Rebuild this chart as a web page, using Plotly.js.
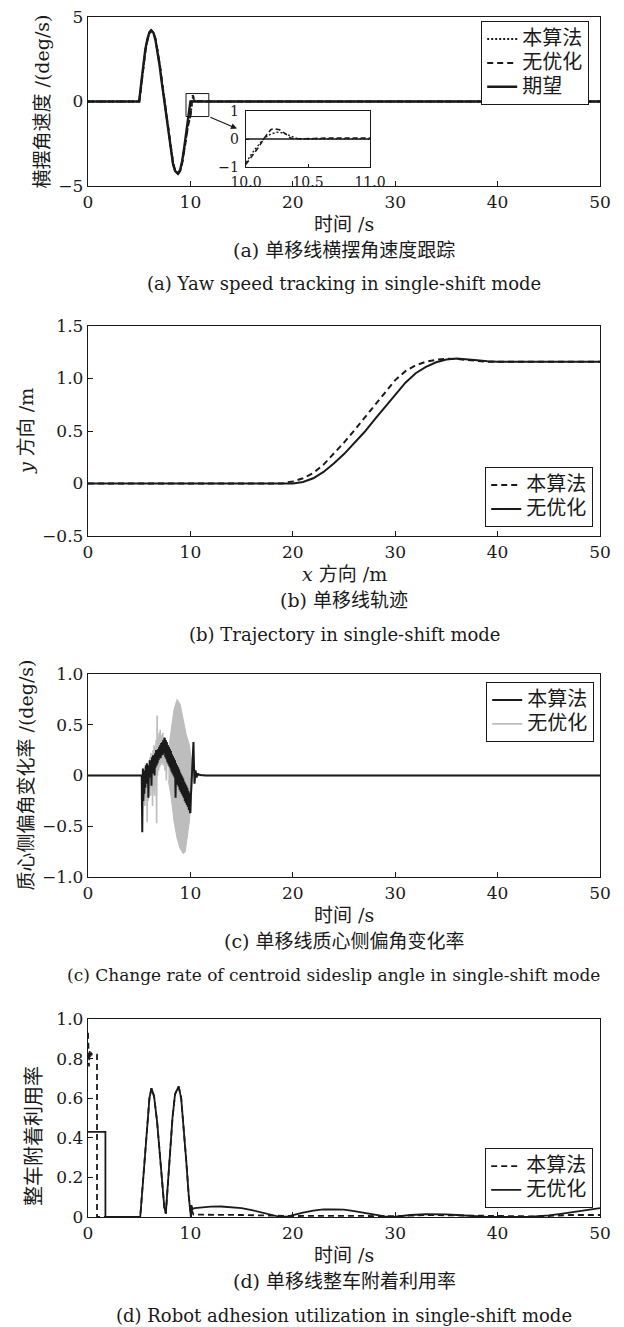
<!DOCTYPE html>
<html><head><meta charset="utf-8">
<script src="https://cdn.plot.ly/plotly-3.0.1.min.js"></script>
<style>body{margin:0;background:#fff}</style>
</head><body><div id="chart" style="width:624px;height:1327px"></div>
<script>
// ---------- (a) yaw rate ----------
const aT_des = [0,5.0,5.2,5.4,5.6,5.8,6.0,6.16,6.4,6.6,6.8,7.0,7.2,7.45,7.7,7.9,8.1,8.3,8.5,8.77,9.0,9.2,9.4,9.6,9.8,10.0,50];
const aY_des = [0,0,1.1,2.2,3.1,3.7,4.1,4.21,4.05,3.6,2.95,2.1,1.15,0,-1.2,-2.2,-3.1,-3.7,-4.1,-4.27,-4.05,-3.5,-2.7,-1.8,-0.85,0,0];
const aT_nop = [0,5.0,5.2,5.4,5.6,5.8,6.0,6.2,6.4,6.6,6.8,7.0,7.2,7.45,7.7,7.9,8.1,8.3,8.5,8.8,9.0,9.2,9.4,9.6,9.8,10.0,10.05,10.1,10.15,10.2,10.22,10.27,10.32,10.36,10.4,10.45,10.55,10.65,10.75,10.85,11.0,11.5,12,50];
const aY_nop = [0,0,0.9,2.0,2.95,3.6,4.05,4.2,4.08,3.7,3.05,2.25,1.3,0.15,-1.05,-2.05,-2.95,-3.6,-4.05,-4.28,-4.12,-3.65,-2.9,-2.05,-1.35,-0.9,-0.62,-0.3,0.05,0.33,0.37,0.33,0.18,0.03,0.0,0.0,0.02,0.035,0.03,0.035,0.02,0.01,0,0];
const aT_alg = [0,5.0,5.2,5.4,5.6,5.8,6.0,6.2,6.4,6.6,6.8,7.0,7.2,7.45,7.7,7.9,8.1,8.3,8.5,8.8,9.0,9.2,9.4,9.6,9.8,10.0,10.05,10.1,10.15,10.2,10.25,10.3,10.35,10.4,10.45,10.55,10.7,11.0,12,50];
const aY_alg = [0,0,1.0,2.1,3.0,3.65,4.07,4.2,4.06,3.65,3.0,2.2,1.25,0.1,-1.1,-2.1,-3.0,-3.65,-4.07,-4.28,-4.1,-3.6,-2.85,-2.0,-1.3,-0.85,-0.5,-0.22,0.04,0.18,0.24,0.22,0.13,0.04,0.0,0.0,0.01,0.01,0,0];

// ---------- (b) trajectory ----------
const bX_nop = [0,19.5,20,21,22,23,24,25,26,27,28,29,30,31,32,33,34,35,36,37,38,39,40,50];
const bY_nop = [0,0,0,0.015,0.05,0.11,0.19,0.28,0.38,0.49,0.61,0.73,0.85,0.96,1.05,1.11,1.155,1.18,1.19,1.185,1.175,1.165,1.16,1.16];
const bX_alg = [0,19,19.3,20,21,22,23,24,25,26,27,28,29,30,31,32,33,34,35,36,37,38,39,40,50];
const bY_alg = [0,0,0.01,0.02,0.05,0.1,0.18,0.28,0.39,0.505,0.625,0.75,0.875,0.985,1.07,1.125,1.16,1.178,1.188,1.186,1.176,1.166,1.16,1.16,1.16];

// ---------- (c) sideslip-angle rate ----------
const cT_alg = [0,5.25,5.27,5.3,5.33,5.36,5.4,5.45,5.5,5.55,5.6,5.65,5.7,5.75,5.8,5.85,5.9,5.95,6.0,6.05,6.1,6.15,6.2,6.25,6.3,6.35,6.4,6.45,6.5,6.55,6.6,6.65,6.7,6.75,6.8,6.85,6.9,6.95,7.0,7.05,7.1,7.15,7.2,7.25,7.3,7.35,7.4,7.45,
  7.5,7.55,7.6,7.65,7.7,7.75,7.8,7.85,7.9,7.95,8.0,8.05,8.1,8.15,8.2,8.25,8.3,8.35,8.4,8.45,8.5,8.55,8.6,8.65,8.7,8.75,8.8,8.85,8.9,8.95,9.0,9.05,9.1,9.15,9.2,9.25,9.3,9.35,9.4,9.45,9.5,9.55,9.6,9.65,9.7,9.75,9.8,9.85,9.9,9.95,10.0,10.05,10.1,10.2,10.3,10.35,10.4,10.5,10.6,10.7,10.8,11.0,11.5,50];
const cY_alg = [0,0,-0.3,-0.56,-0.2,0.07,-0.25,-0.05,-0.18,0.05,-0.12,0.1,-0.08,0.12,-0.05,0.08,-0.22,0.1,0.0,0.15,-0.02,0.12,-0.1,0.18,0.02,0.2,0.05,0.15,0.0,0.22,0.08,0.25,0.1,0.2,0.12,0.26,0.15,0.28,0.18,0.3,0.17,0.32,0.2,0.33,0.2,0.35,0.22,0.36,
  0.37,0.18,0.35,0.16,0.33,0.13,0.3,0.11,0.28,0.09,0.26,0.07,0.24,0.04,0.21,0.02,0.19,0.0,0.17,-0.02,0.15,-0.22,0.12,-0.07,0.1,-0.09,0.08,-0.11,0.06,-0.14,0.03,-0.16,0.01,-0.18,-0.01,-0.2,-0.03,-0.22,-0.06,-0.25,-0.08,-0.27,-0.1,-0.29,-0.12,-0.31,-0.15,-0.34,-0.17,-0.36,-0.37,-0.2,-0.1,0.0,0.33,0.1,-0.08,0.05,-0.02,0.02,0.01,0.005,0,0];
const cT_nop = [0,5.4,5.45,5.5,5.55,5.6,5.65,5.7,5.78,5.82,5.88,5.93,6.0,6.05,6.1,6.15,6.2,6.25,6.3,6.35,6.4,6.45,6.5,6.55,6.6,6.65,6.7,6.75,6.8,6.85,6.9,6.95,7.0,7.05,7.1,7.15,7.2,7.3,7.35,7.45,7.5,7.6,7.65,7.75,7.85,10.2,10.3,50];
const cY_nop = [0,0,-0.18,0.08,-0.3,0.05,-0.22,0.1,-0.46,0.12,-0.25,0.15,-0.12,0.18,-0.2,0.22,-0.08,0.15,-0.3,0.25,-0.15,0.3,-0.2,0.28,-0.1,0.35,-0.47,0.59,0.0,0.38,0.05,0.42,0.08,0.45,0.1,0.4,0.12,0.42,0.1,0.38,0.05,0.3,-0.05,0.28,0.1,0.0,0,0];
const cT_nopUpper = [7.85,8.1,8.4,8.7,9.0,9.3,9.6,9.9,10.1,10.2];
const cY_nopUpper = [0.25,0.45,0.65,0.75,0.7,0.55,0.4,0.3,0.15,0.0];
const cT_nopLower = [7.85,8.1,8.4,8.7,9.0,9.3,9.5,9.7,9.9,10.1,10.2];
const cY_nopLower = [-0.05,-0.2,-0.45,-0.62,-0.72,-0.77,-0.75,-0.62,-0.45,-0.2,0.0];

// ---------- (d) adhesion utilization ----------
const dT_alg = [0,0.05,0.1,0.15,0.2,0.3,0.4,0.88,0.88,5.1,5.3,5.5,5.75,6.0,6.2,6.45,6.75,7.0,7.25,7.45,7.6,7.75,8.0,8.25,8.5,8.85,9.1,9.35,9.6,9.85,10.05,10.1,10.3,15,18,20,25,30,33,36,40,44,47,50];
const dY_alg = [0.93,0.86,0.76,0.84,0.8,0.83,0.82,0.82,0,0,0.13,0.28,0.46,0.6,0.65,0.61,0.48,0.33,0.17,0.05,0.017,0.14,0.33,0.5,0.62,0.66,0.6,0.45,0.28,0.1,0,0.04,0.012,0.01,0.006,0.005,0.006,0.004,0.01,0.008,0.002,0.003,0.01,0.01];
const dT_nop = [0,1.7,1.7,5.1,5.3,5.5,5.75,6.0,6.2,6.45,6.75,7.0,7.25,7.45,7.6,7.75,8.0,8.25,8.5,8.85,9.1,9.35,9.6,9.85,10.05,10.1,10.2,10.4,11,12,13,14,15,16,17,18,18.8,19.5,20,21,22,23,24,25,26,27,28,29,29.8,30.5,31.5,33,34,35,36,37,38,39,43,44,45,46,47,48,49,50];
const dY_nop = [0.43,0.43,0,0,0.13,0.28,0.46,0.6,0.65,0.61,0.48,0.33,0.17,0.05,0.017,0.14,0.33,0.5,0.62,0.66,0.6,0.45,0.28,0.1,0,0.06,0.04,0.045,0.048,0.052,0.053,0.05,0.045,0.035,0.022,0.008,0,0.003,0.01,0.022,0.032,0.038,0.039,0.037,0.03,0.02,0.01,0.003,0,0.004,0.01,0.014,0.015,0.013,0.01,0.006,0.002,0,0,0.003,0.008,0.015,0.022,0.03,0.038,0.045];

// ---------- tick labels / texts ----------
const xTicks = [0,10,20,30,40,50];
const aYTicks = [-5,0,5], aYText = ['−5','0','5'];
const bYTicks = [-0.5,0,0.5,1,1.5], bYText = ['−0.5','0','0.5','1.0','1.5'];
const cYTicks = [-1,-0.5,0,0.5,1], cYText = ['−1.0','−0.5','0','0.5','1.0'];
const dYTicks = [0,0.2,0.4,0.6,0.8,1], dYText = ['0','0.2','0.4','0.6','0.8','1.0'];
const insetXTicks = [10,10.5,11], insetXText = ['10.0','10.5','11.0'];
const insetYTicks = [-1,0,1], insetYText = ['−1','0','1'];
const names = {alg:'本算法', nop:'无优化', des:'期望'};

// ---------- layout helpers ----------
const W=624, H=1327, L=88, R=600;
const px = v => v/W, py = v => 1 - v/H;
const FONT = 'DejaVu Serif, Noto Sans CJK SC, serif';
const INK = '#1a1a1a';
const P = {a:[17,186], b:[326,536], c:[674,877], d:[1019,1217]};
const leg = s => '<span style="font-size:20px">' + s + '</span>';

function axis(extra){
  return Object.assign({showline:true, linecolor:INK, linewidth:1.2, mirror:true, ticks:'inside', ticklen:5,
    tickwidth:1, tickcolor:INK, showgrid:false, zeroline:false, fixedrange:true,
    tickfont:{family:FONT, size:17, color:INK}}, extra);
}
const BLK = INK, GRY = '#bdbdbd';
const traces = [];
function line(x,y,xa,ya,opt){
  traces.push(Object.assign({type:'scatter', mode:'lines', x:x, y:y, xaxis:xa, yaxis:ya, hoverinfo:'skip'}, opt));
}
// (a)
line(aT_alg,aY_alg,'x','y',{name:leg(names.alg), legend:'legend', line:{color:BLK,width:2,dash:'2px,2px'}});
line(aT_nop,aY_nop,'x','y',{name:leg(names.nop), legend:'legend', line:{color:BLK,width:2,dash:'6px,4px'}});
line(aT_des,aY_des,'x','y',{name:leg(names.des), legend:'legend', line:{color:BLK,width:2.4}});
// inset
line(aT_alg,aY_alg,'x5','y5',{showlegend:false, line:{color:BLK,width:1.4,dash:'2px,2px'}});
line(aT_nop,aY_nop,'x5','y5',{showlegend:false, line:{color:BLK,width:1.6,dash:'5px,3px'}});
line(aT_des,aY_des,'x5','y5',{showlegend:false, line:{color:BLK,width:1.6}});
// (b)
line(bX_alg,bY_alg,'x2','y2',{name:leg(names.alg), legend:'legend2', line:{color:BLK,width:2,dash:'6px,4px'}});
line(bX_nop,bY_nop,'x2','y2',{name:leg(names.nop), legend:'legend2', line:{color:BLK,width:2}});
// (c)
const bandX = cT_nopUpper.concat(cT_nopLower.slice().reverse());
const bandY = cY_nopUpper.concat(cY_nopLower.slice().reverse());
line(cT_nop,cY_nop,'x3','y3',{name:leg(names.nop), legend:'legend3', legendrank:2, line:{color:GRY,width:1.6}});
traces.push({type:'scatter', mode:'lines', x:bandX, y:bandY, xaxis:'x3', yaxis:'y3', fill:'toself', fillcolor:GRY,
  line:{color:GRY,width:1}, showlegend:false, hoverinfo:'skip'});
line(cT_alg,cY_alg,'x3','y3',{name:leg(names.alg), legend:'legend3', legendrank:1, line:{color:BLK,width:2}});
// (d)
line(dT_alg,dY_alg,'x4','y4',{name:leg(names.alg), legend:'legend4', line:{color:BLK,width:1.8,dash:'6px,4px'}});
line(dT_nop,dY_nop,'x4','y4',{name:leg(names.nop), legend:'legend4', line:{color:BLK,width:1.8}});

function legendAt(x,y,yanchor){
  return {x:px(x), y:py(y), xanchor:'right', yanchor:yanchor, xref:'paper', yref:'paper', bgcolor:'rgba(255,255,255,1)',
    bordercolor:INK, borderwidth:1.2, font:{family:FONT,size:16,color:INK}, itemwidth:30, tracegroupgap:0, traceorder:'normal'};
}
const dom = k => [py(P[k][1]), py(P[k][0])];
const xdom = [px(L), px(R)];

const ann = [];
function txt(text,x,y,size,angle){
  ann.push({text:text, x:px(x), y:py(y), xref:'paper', yref:'paper', showarrow:false, textangle:angle||0,
    font:{family:FONT,size:size||19,color:INK}, xanchor:'center', yanchor:'middle'});
}
const cx = 344;
// y titles
txt('横摆角速度 /(deg/s)',42,(P.a[0]+P.a[1])/2,19,-90);
txt('<i>y</i> 方向 /m',26,(P.b[0]+P.b[1])/2,19,-90);
txt('质心侧偏角变化率 /(deg/s)',25,(P.c[0]+P.c[1])/2,19,-90);
txt('整车附着利用率',34,(P.d[0]+P.d[1])/2+18,20,-90);
// x titles & captions
const caps = {
  a:['时间 /s','(a) 单移线横摆角速度跟踪','(a) Yaw speed tracking in single-shift mode'],
  b:['<i>x</i> 方向 /m','(b) 单移线轨迹','(b) Trajectory in single-shift mode'],
  c:['时间 /s','(c) 单移线质心侧偏角变化率','(c) Change rate of centroid sideslip angle in single-shift mode'],
  d:['时间 /s','(d) 单移线整车附着利用率','(d) Robot adhesion utilization in single-shift mode']
};
for(const k of ['a','b','c','d']){
  const b = P[k][1];
  txt(caps[k][0],cx,b+38,19);
  txt(caps[k][1],cx,b+64,19);
  if(k === 'c') txt(caps[k][2],333,b+98,17);
  else txt(caps[k][2],cx,b+98,18);
}
// zoom arrow in (a)
ann.push({x:14.55, y:-1.6, xref:'x', yref:'y', ax:11.8, ay:-0.89, axref:'x', ayref:'y', showarrow:true,
  arrowhead:2, arrowsize:1, arrowwidth:1.2, arrowcolor:INK, text:''});

const layout = {
  width:W, height:H, margin:{l:0,r:0,t:0,b:0}, paper_bgcolor:'#fff', plot_bgcolor:'rgba(0,0,0,0)',
  showlegend:true, font:{family:FONT,color:INK},
  xaxis: axis({domain:xdom, anchor:'y', range:[0,50], tickvals:xTicks}),
  yaxis: axis({domain:dom('a'), anchor:'x', range:[-5,5], tickvals:aYTicks, ticktext:aYText}),
  xaxis2: axis({domain:xdom, anchor:'y2', range:[0,50], tickvals:xTicks}),
  yaxis2: axis({domain:dom('b'), anchor:'x2', range:[-0.5,1.5], tickvals:bYTicks, ticktext:bYText}),
  xaxis3: axis({domain:xdom, anchor:'y3', range:[0,50], tickvals:xTicks}),
  yaxis3: axis({domain:dom('c'), anchor:'x3', range:[-1,1], tickvals:cYTicks, ticktext:cYText}),
  xaxis4: axis({domain:xdom, anchor:'y4', range:[0,50], tickvals:xTicks}),
  yaxis4: axis({domain:dom('d'), anchor:'x4', range:[0,1], tickvals:dYTicks, ticktext:dYText}),
  xaxis5: axis({domain:[px(246),px(370)], anchor:'y5', range:[10,11], tickvals:insetXTicks, ticktext:insetXText, ticklen:3, ticklabelstandoff:2, tickfont:{family:FONT,size:14,color:INK}}),
  yaxis5: axis({domain:[py(167),py(111)], anchor:'x5', range:[-1,1], tickvals:insetYTicks, ticktext:insetYText, ticklen:3, ticklabelstandoff:3, tickfont:{family:FONT,size:14,color:INK}}),
  legend: legendAt(589,21,'top'),
  legend2: legendAt(593,527,'bottom'),
  legend3: legendAt(594,682,'top'),
  legend4: legendAt(593,1208,'bottom'),
  shapes:[{type:'rect', xref:'x', yref:'y', x0:9.57, x1:11.8, y0:-0.89, y1:0.47, line:{color:INK,width:1}}],
  annotations: ann
};
Plotly.newPlot('chart', traces, layout, {displayModeBar:false, staticPlot:true});
</script></body></html>
